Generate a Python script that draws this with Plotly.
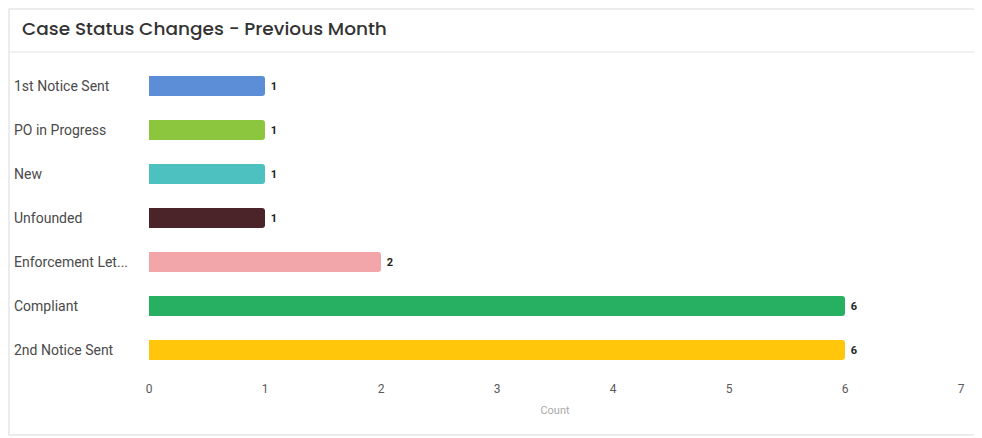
import plotly.graph_objects as go

categories = ["1st Notice Sent", "PO in Progress", "New", "Unfounded",
              "Enforcement Let...", "Compliant", "2nd Notice Sent"]
counts = [1, 1, 1, 1, 2, 6, 6]
colors = ["#5B8ED6", "#8CC63E", "#4CC1C0", "#4A2428", "#F3A6AA", "#28B062", "#FFC60B"]
tick_vals = [0, 1, 2, 3, 4, 5, 6, 7]

# page body has an 8px default margin; figure sized to fill the remaining window
OFF = 8
W, H = 982 - OFF, 438 - OFF
L, R, T, B = 149 - OFF, 21, 64 - OFF, 66
PW, PH = W - L - R, H - T - B


def px_x(x):
    return (x - OFF - L) / PW


def px_y(y):
    return 1 - (y - OFF - T) / PH


fig = go.Figure()
fig.add_trace(go.Bar(
    x=counts, y=categories, orientation="h",
    marker=dict(color=colors, line=dict(width=0), cornerradius=3),
    text=[str(c) for c in counts], textposition="outside",
    textfont=dict(family="Roboto", size=11, color="#222222"),
    texttemplate="\u00a0<b>%{text}</b>",
    width=0.46, cliponaxis=False,
))

for cat in categories:
    fig.add_annotation(
        x=px_x(12), xref="paper", y=cat, yref="y",
        text=cat, showarrow=False, xanchor="left",
        font=dict(family="Roboto", size=14, color="#4A4A4A"),
    )

fig.update_layout(
    width=W, height=H,
    margin=dict(l=L, r=R, t=T, b=B),
    paper_bgcolor="white", plot_bgcolor="white",
    showlegend=False,
    xaxis=dict(range=[0, 7], tickvals=tick_vals, showgrid=False, zeroline=False,
               showline=False, ticks="", ticklabelstandoff=8,
               tickfont=dict(family="Roboto", size=12, color="#5A5A5A"),
               title=dict(text="Count", font=dict(family="Roboto", size=11, color="#AAAAAA"),
                          standoff=11)),
    yaxis=dict(categoryorder="array", categoryarray=categories, autorange="reversed",
               showticklabels=False, showgrid=False, zeroline=False, showline=False, ticks=""),
    shapes=[
        dict(type="rect", xref="paper", yref="paper",
             x0=px_x(OFF + 1), x1=px_x(975), y0=px_y(435), y1=px_y(OFF + 1),
             line=dict(color="#E6E6E6", width=1.5), fillcolor="rgba(0,0,0,0)", layer="below"),
        dict(type="line", xref="paper", yref="paper",
             x0=px_x(OFF + 1), x1=px_x(975), y0=px_y(52), y1=px_y(52),
             line=dict(color="#ECECEC", width=1.5)),
    ],
    title=dict(text="Case Status Changes - Previous Month", x=(22 - OFF) / W, xanchor="left",
               y=1 - (29 - OFF) / H, yanchor="middle",
               font=dict(family="Poppins, Inter, Open Sans", size=18.5, color="#333333", weight=500)),
)

fig.write_html("out.html")
